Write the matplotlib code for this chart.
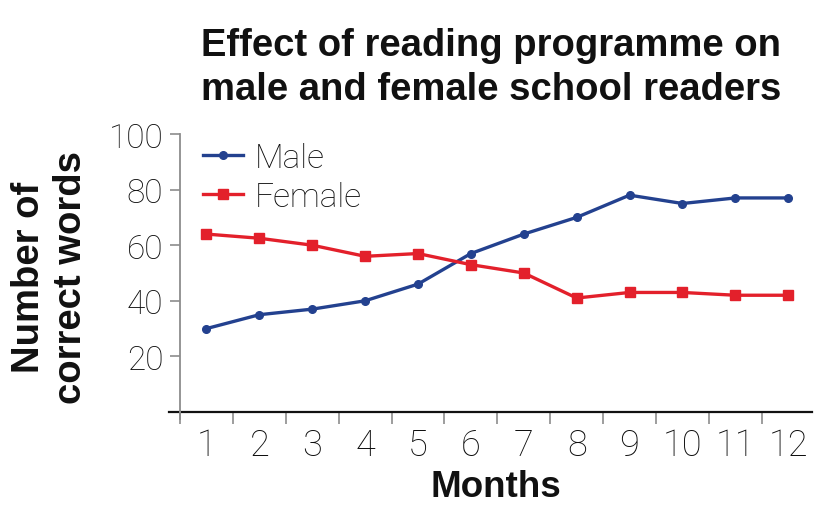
import matplotlib
matplotlib.use("Agg")
import matplotlib.pyplot as plt
from matplotlib.lines import Line2D

months = list(range(1, 13))
month_labels = [str(m) for m in months]
male = [30, 35, 37, 40, 46, 57, 64, 70, 78, 75, 77, 77]
female = [64, 62.5, 60, 56, 57, 53, 50, 41, 43, 43, 42, 42]
y_ticks = [20, 40, 60, 80, 100]

BLUE = "#23418f"
RED = "#e3202b"
GREY = "#8c8c8c"
INK = "#0d0d0d"

W, H = 814, 506
fig = plt.figure(figsize=(W / 100, H / 100), dpi=100)

# axes frame in pixel terms: left spine at x=180, y=0 at 413, y=100 at 135
x0, x1 = 180, 812
y_bottom, y_top = 413, 135
ax = fig.add_axes([x0 / W, (H - y_bottom) / H, (x1 - x0) / W, (y_bottom - y_top) / H])

ax.plot(months, male, color=BLUE, lw=2.4, marker="o", ms=5.5, label="Male")
ax.plot(months, female, color=RED, lw=2.4, marker="s", ms=7, label="Female")

ax.set_xlim(0.5, 12.45)
ax.set_ylim(0, 100)

light = dict(family="Roboto", weight="light")

ax.set_xticks(months)
ax.set_xticklabels(month_labels, fontsize=26, color=INK, **light)
ax.set_xticks([m - 0.5 for m in months], minor=True)
ax.tick_params(axis="x", which="major", length=0, pad=11)
ax.tick_params(axis="x", which="minor", length=8.5, width=1.2, color=GREY, direction="out")

ax.set_yticks(y_ticks)
ax.set_yticklabels([str(v) for v in y_ticks], fontsize=24, color=INK, **light)
ax.tick_params(axis="y", length=7, width=1.2, color=GREY, pad=5)

for s in ("top", "right"):
    ax.spines[s].set_visible(False)
ax.spines["left"].set_color(GREY)
ax.spines["left"].set_linewidth(1.3)
ax.spines["bottom"].set_visible(False)

# x axis line runs a little past the y axis on the left; y axis drops slightly below it
ax.add_line(Line2D([-0.018, 1.0], [0, 0], transform=ax.transAxes, color="#111111",
                   lw=1.6, clip_on=False))
ax.add_line(Line2D([0, 0], [-0.025, 0], transform=ax.transAxes, color=GREY,
                   lw=1.3, clip_on=False))

leg = ax.legend(loc="upper left", bbox_to_anchor=(203 / W, (H - 143) / H),
                bbox_transform=fig.transFigure, frameon=False,
                prop=dict(family="Roboto", weight="light", size=24),
                handlelength=1.2, handletextpad=0.35, labelspacing=0.2,
                borderpad=0, borderaxespad=0)
for t in leg.get_texts():
    t.set_color(INK)

bold = dict(family="Liberation Sans", weight="bold", color="#111111")
fig.text(491 / W, (H - 56) / H, "Effect of reading programme on",
         ha="center", va="baseline", fontsize=27.5, **bold)
fig.text(491 / W, (H - 100) / H, "male and female school readers",
         ha="center", va="baseline", fontsize=27.5, **bold)
fig.text(50 / W, (H - 277) / H, "Number of\ncorrect words", rotation=90,
         ha="center", va="center", multialignment="center", fontsize=27.5, **bold)
fig.text(496 / W, 0.002, "Months", ha="center", va="bottom", fontsize=26.5, **bold)

fig.savefig("out.png", dpi=100)
